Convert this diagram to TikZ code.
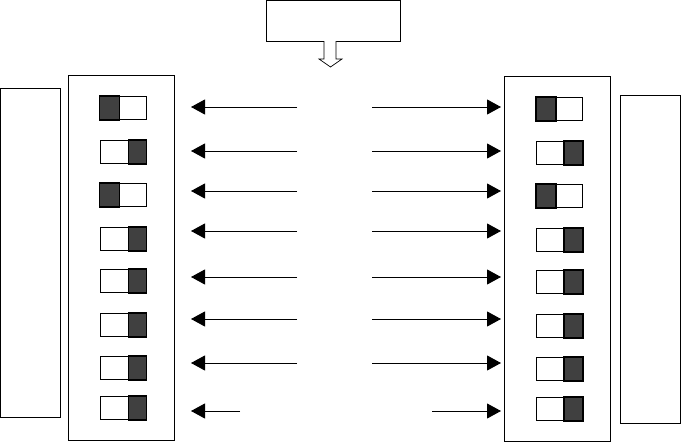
\documentclass[tikz,border=0pt]{standalone}
\usetikzlibrary{positioning,calc,arrows.meta}
\definecolor{darkgrey}{rgb}{0.25,0.25,0.25}

\begin{document}
\begin{tikzpicture}
[x=1pt,y=-1pt, every node/.style={rectangle,draw,inner sep=0pt,line width=0.9pt},
 sw/.style={minimum width=46pt,minimum height=23pt,fill=white},
 link/.style={line width=0.9pt,-{Triangle[length=14pt,width=15pt]}}]
\useasboundingbox (0,0) rectangle (681,442);
% panels
\node[minimum width=134pt, minimum height=41pt] (top) at (333,20.5) {};
\node[minimum width=60pt, minimum height=329pt] (lbox) at (30,252.5) {};
\node[minimum width=106pt, minimum height=365pt] (ldip) at (121,257.5) {};
\node[minimum width=106pt, minimum height=365pt] (rdip) at (557,258.5) {};
\node[minimum width=60pt, minimum height=328pt] (rbox) at (650,259) {};
% hollow arrow
\draw[line width=0.7pt, fill=white] (324,41) -- (324,59) -- (319,59) -- (330.5,67) -- (342,59) -- (336,59) -- (336,41);
% switches
\foreach \i/\y/\a/\s in {1/108/107/l, 2/152/151/r, 3/195/191/l, 4/239/231/r, 5/281/277/r, 6/325/319/r, 7/368/363/r, 8/408/411/r} {
  \node[sw] (swl\i) at (123,\y) {};
  \node[sw] (swr\i) at (559.5,\y+1) {};
  \if\s l
    \fill[darkgrey, draw=black, line width=1.2pt] (swl\i.north west) rectangle ($(swl\i.south west)+(20,0)$);
    \fill[darkgrey, draw=black, line width=1.2pt] (swr\i.north west) rectangle ($(swr\i.south west)+(20,0)$);
  \else
    \fill[darkgrey, draw=black, line width=1.2pt] ($(swl\i.north east)+(-18,0)$) rectangle (swl\i.south east);
    \fill[darkgrey, draw=black, line width=1.2pt] ($(swr\i.north east)+(-19,0)$) rectangle (swr\i.south east);
  \fi
  \coordinate (la\i) at (297,\a);
  \coordinate (lt\i) at (191,\a);
  \coordinate (ra\i) at (372,\a);
  \coordinate (rt\i) at (501,\a);
}
\coordinate (la8) at (240,411);
\coordinate (ra8) at (432,411);
% arrows
\foreach \i in {1,...,8} {
  \draw[link] (la\i) -- (lt\i);
  \draw[link] (ra\i) -- (rt\i);
}
\end{tikzpicture}
\end{document}
